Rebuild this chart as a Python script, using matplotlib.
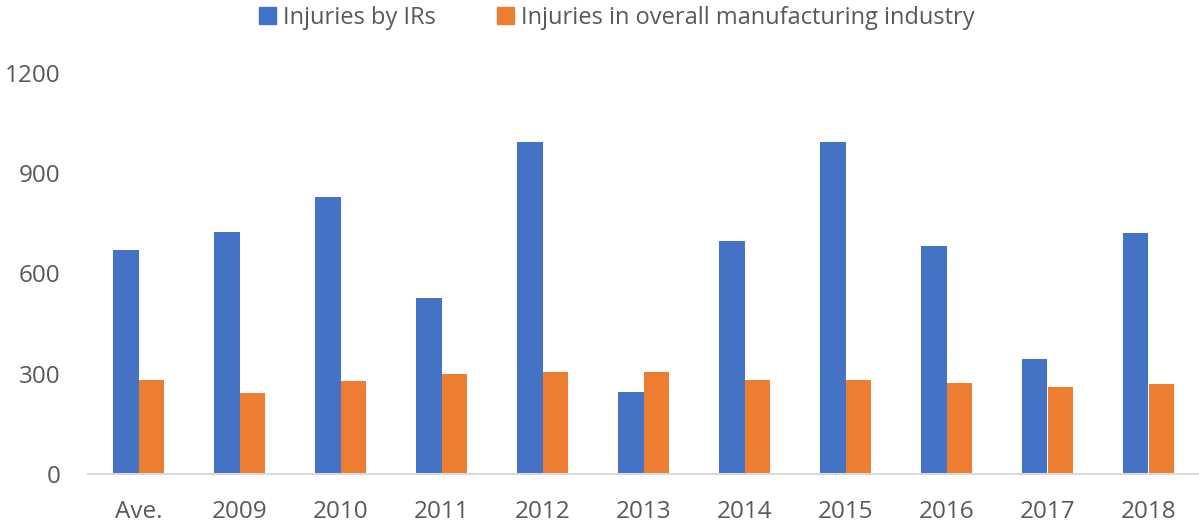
import matplotlib
matplotlib.use("Agg")
import matplotlib.pyplot as plt
import numpy as np
from matplotlib.patches import Patch

categories = ["Ave.", "2009", "2010", "2011", "2012", "2013", "2014", "2015", "2016", "2017", "2018"]
irs = [670, 723, 830, 528, 995, 246, 697, 995, 682, 345, 720]
overall = [280, 242, 277, 300, 304, 304, 280, 280, 273, 259, 269]
series_names = ["Injuries by IRs", "Injuries in overall manufacturing industry"]
yticks = [0, 300, 600, 900, 1200]

blue = "#4472C4"
orange = "#ED7D31"
txt = "#595959"

plt.rcParams['font.family'] = ['Open Sans', 'DejaVu Sans']

W, H = 1199, 525
fig = plt.figure(figsize=(W / 100, H / 100), dpi=100)
ax = fig.add_axes([88 / W, 1 - 474 / H, (1199 - 88) / W, (474 - 73) / H])

x = np.arange(len(categories))
bw = 0.257
ax.bar(x - bw / 2, irs, width=bw, color=blue, label=series_names[0], zorder=2)
ax.bar(x + bw / 2, overall, width=bw, color=orange, label=series_names[1], zorder=2)

ax.set_xlim(-0.5, len(categories) - 0.5)
ax.set_ylim(0, 1200)
ax.set_yticks(yticks)
ax.set_yticklabels([str(v) for v in yticks], fontsize=17.5, color=txt)
ax.set_xticks(x)
ax.set_xticklabels(categories, fontsize=17.5, color=txt)
ax.tick_params(axis='both', length=0)
ax.tick_params(axis='y', pad=20)
ax.tick_params(axis='x', pad=19)
for s in ["top", "right", "left"]:
    ax.spines[s].set_visible(False)
ax.spines["bottom"].set_color("#D9D9D9")
ax.spines["bottom"].set_linewidth(1.5)
ax.spines["bottom"].set_zorder(3)

handles = [Patch(color=blue), Patch(color=orange)]
fig.legend(handles, series_names, loc="center", bbox_to_anchor=(617 / W, 1 - 18 / H),
           ncol=2, frameon=False, fontsize=17, labelcolor=txt,
           handlelength=0.7, handleheight=0.7, handletextpad=0.3, columnspacing=2.6)

fig.savefig("out.png", dpi=100)
